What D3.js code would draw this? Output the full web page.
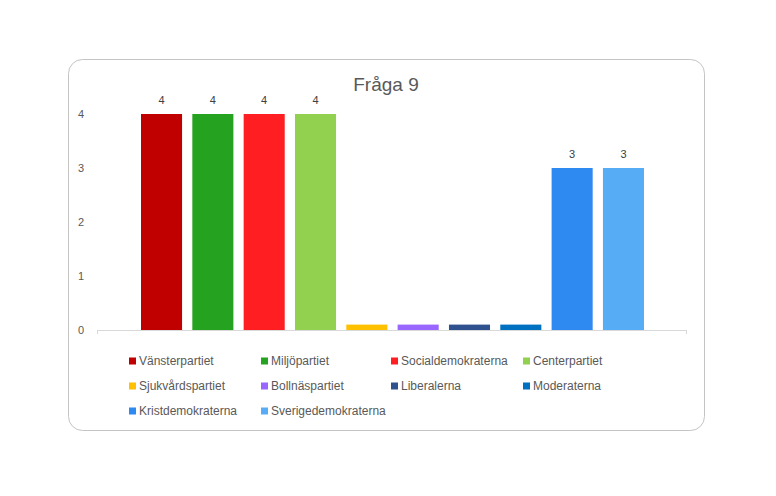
<!DOCTYPE html>
<html>
<head>
<meta charset="utf-8">
<script src="https://cdn.jsdelivr.net/npm/d3@7"></script>
<style>
body{margin:0;background:#fff;}
text{font-family:"Liberation Sans","DejaVu Sans",sans-serif;}
</style>
</head>
<body>
<div id="chart"></div>
<script>
var title="Fråga 9";
var parties=["Vänsterpartiet","Miljöpartiet","Socialdemokraterna","Centerpartiet",
  "Sjukvårdspartiet","Bollnäspartiet","Liberalerna","Moderaterna",
  "Kristdemokraterna","Sverigedemokraterna"];
var values=[4,4,4,4,0.1,0.1,0.1,0.1,3,3];
var labels=["4","4","4","4","","","","","3","3"];
var colors=["#c00000","#25a21f","#ff1f23","#92d050","#ffc000","#9966ff","#2f528f","#0070c0","#2e89f0","#56adf5"];
var yTicks=[0,1,2,3,4];

var width=776,height=496;
var svg=d3.select("#chart").append("svg")
  .attr("width",width).attr("height",height);

svg.append("rect")
  .attr("x",68.5).attr("y",59.5)
  .attr("width",636).attr("height",371)
  .attr("rx",14).attr("ry",14)
  .attr("fill","#fff").attr("stroke","#c4c4c4");

svg.append("text")
  .attr("x",386).attr("y",91)
  .attr("text-anchor","middle")
  .style("font-size","19px")
  .attr("fill","#595959")
  .text(title);

var y=d3.scaleLinear().domain([0,4]).range([330,114]);
var x=d3.scaleBand().domain(parties).range([141,644]).paddingInner(0.2).paddingOuter(0);

// y axis labels
svg.append("g").selectAll("text")
  .data(yTicks).enter().append("text")
  .attr("x",84).attr("y",function(d){return y(d);})
  .attr("dy","0.35em")
  .attr("text-anchor","end")
  .style("font-size","11px")
  .attr("fill","#595959")
  .text(function(d){return d;});

svg.selectAll("rect.bar")
  .data(values).enter().append("rect")
  .attr("class","bar")
  .attr("x",function(d,i){return x(parties[i]);})
  .attr("width",x.bandwidth())
  .attr("y",function(d){return y(d);})
  .attr("height",function(d){return y(0)-y(d);})
  .attr("fill",function(d,i){return colors[i];});

// baseline
svg.append("line")
  .attr("x1",97).attr("x2",687)
  .attr("y1",330.5).attr("y2",330.5)
  .attr("stroke","#d9d9d9");
svg.append("line")
  .attr("x1",97.5).attr("x2",97.5)
  .attr("y1",330).attr("y2",334)
  .attr("stroke","#d9d9d9");
svg.append("line")
  .attr("x1",686.5).attr("x2",686.5)
  .attr("y1",330).attr("y2",334)
  .attr("stroke","#d9d9d9");

// data labels
svg.append("g").selectAll("text")
  .data(values).enter().append("text")
  .attr("x",function(d,i){return x(parties[i])+x.bandwidth()/2;})
  .attr("y",function(d){return y(d)-10;})
  .attr("text-anchor","middle")
  .style("font-size","11px")
  .attr("fill","#404040")
  .text(function(d,i){return labels[i];});

// legend
var colX=[129,261,391,523],rowY=[361,386,411];
var legend=svg.append("g").selectAll("g")
  .data(parties).enter().append("g")
  .attr("transform",function(d,i){return "translate("+colX[i%4]+","+rowY[Math.floor(i/4)]+")";});
legend.append("rect")
  .attr("x",0).attr("y",-3.5)
  .attr("width",7).attr("height",7)
  .attr("fill",function(d,i){return colors[i];});
legend.append("text")
  .attr("x",10).attr("y",0)
  .attr("dy","0.35em")
  .style("font-size","12px")
  .attr("fill","#595959")
  .text(function(d){return d;});
</script>
</body>
</html>
